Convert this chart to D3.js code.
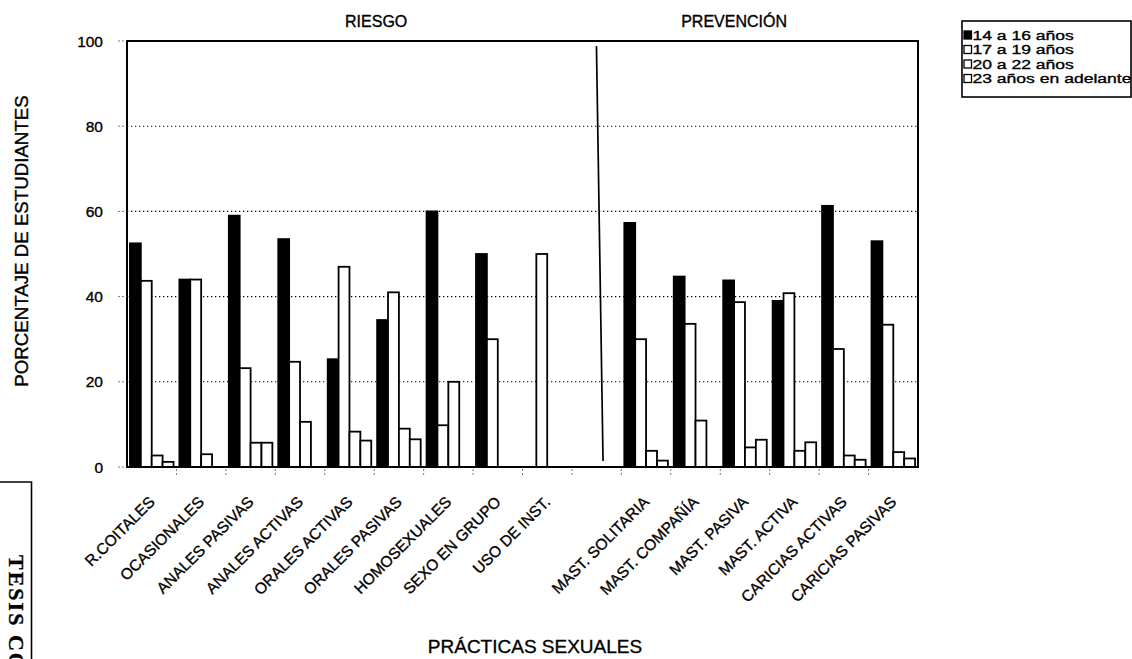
<!DOCTYPE html>
<html>
<head>
<meta charset="utf-8">
<script src="https://cdn.jsdelivr.net/npm/d3@7"></script>
<style>
  html, body { margin: 0; padding: 0; background: #fff; }
  svg { display: block; font-family: "Liberation Sans", Arial, sans-serif; }
  svg text { fill: #000; stroke: #000; stroke-width: 0.35px; }
</style>
</head>
<body>
<svg id="chart" width="1132" height="659"></svg>
<script>
// Sexual practices by age group: percentage of students (risk vs. prevention)
const categories = [
  "R.COITALES", "OCASIONALES", "ANALES PASIVAS", "ANALES ACTIVAS",
  "ORALES ACTIVAS", "ORALES PASIVAS", "HOMOSEXUALES", "SEXO EN GRUPO",
  "USO DE INST.", "",
  "MAST. SOLITARIA", "MAST. COMPAÑÍA", "MAST. PASIVA", "MAST. ACTIVA",
  "CARICIAS ACTIVAS", "CARICIAS PASIVAS"
];
const seriesNames = ["14 a 16 años", "17 a 19 años", "20 a 22 años", "23 años en adelante"];
const age14to16 = [52.5, 44, 59, 53.5, 25.3, 34.5, 60, 50, 0, null, 57.3, 44.7, 43.8, 39, 61.3, 53];
const age17to19 = [43.7, 44, 23.2, 24.7, 47, 41, 9.8, 30, 50, null, 30, 33.6, 38.7, 40.8, 27.7, 33.4];
const age20to22 = [2.7, 3, 5.7, 10.6, 8.3, 9, 20, 0, 0, null, 3.8, 10.9, 4.6, 3.8, 2.7, 3.5];
const age23plus = [1.2, 0, 5.7, 0, 6.2, 6.5, 0, 0, 0, null, 1.5, 0, 6.4, 5.8, 1.7, 2.0];
const seriesValues = [age14to16, age17to19, age20to22, age23plus];
const seriesFills = ["#000", "#fff", "#fff", "#fff"];
const yTicks = [0, 20, 40, 60, 80, 100];
const groupTitles = ["RIESGO", "PREVENCIÓN"];
const groupRanges = [["R.COITALES", "USO DE INST."], ["MAST. SOLITARIA", "CARICIAS PASIVAS"]];

const svg = d3.select("#chart");
const plot = { left: 127, right: 918, top: 41, bottom: 467 };

const slotKeys = categories.map((c, i) => i);
const x0 = d3.scaleBand().domain(slotKeys).range([plot.left, plot.right]).padding(0);
const x1 = d3.scaleBand().domain(d3.range(seriesNames.length))
  .range([0, x0.bandwidth()]).paddingInner(0).paddingOuter(0.27);
const y = d3.scaleLinear().domain([0, 100]).range([plot.bottom, plot.top]);

// dotted gridlines
svg.append("g")
  .selectAll("line")
  .data(yTicks.filter(t => t > 0 && t < 100))
  .join("line")
  .attr("x1", plot.left).attr("x2", plot.right)
  .attr("y1", d => y(d)).attr("y2", d => y(d))
  .attr("stroke", "#000").attr("stroke-width", 1.1)
  .attr("stroke-dasharray", "1.3,2.7");

// bars
const bars = svg.append("g");
seriesValues.forEach((vals, s) => {
  bars.append("g")
    .selectAll("rect")
    .data(vals.map((v, i) => ({ i, v })).filter(d => d.v !== null && d.v > 0))
    .join("rect")
    .attr("x", d => x0(d.i) + x1(s))
    .attr("width", x1.bandwidth())
    .attr("y", d => y(d.v))
    .attr("height", d => y(0) - y(d.v))
    .attr("fill", seriesFills[s])
    .attr("stroke", "#000")
    .attr("stroke-width", 1.8);
});

// plot frame
svg.append("rect")
  .attr("x", plot.left).attr("y", plot.top)
  .attr("width", plot.right - plot.left).attr("height", plot.bottom - plot.top)
  .attr("fill", "none").attr("stroke", "#000").attr("stroke-width", 2);

// hand-drawn divider between the two groups
const gapIndex = categories.indexOf("");
const gapCenter = x0(gapIndex) + x0.bandwidth() / 2;
svg.append("line")
  .attr("x1", gapCenter - 0.2).attr("y1", y(98.8))
  .attr("x2", gapCenter + 6.4).attr("y2", y(1.4))
  .attr("stroke", "#000").attr("stroke-width", 1.7);

// y axis ticks and labels
const yAxis = svg.append("g");
yAxis.selectAll("line")
  .data(yTicks)
  .join("line")
  .attr("x1", plot.left - 9).attr("x2", plot.left)
  .attr("y1", d => y(d)).attr("y2", d => y(d))
  .attr("stroke", "#555").attr("stroke-width", 0.8)
  .attr("stroke-dasharray", "2,2");
yAxis.selectAll("text")
  .data(yTicks)
  .join("text")
  .attr("x", 103).attr("y", d => y(d))
  .attr("text-anchor", "end")
  .attr("dominant-baseline", "central")
  .attr("font-size", 15.5)
  .text(d => d);

// x axis ticks at slot boundaries
svg.append("g")
  .selectAll("line")
  .data(d3.range(1, categories.length))
  .join("line")
  .attr("x1", d => x0(d)).attr("x2", d => x0(d))
  .attr("y1", plot.bottom + 2).attr("y2", plot.bottom + 10)
  .attr("stroke", "#555").attr("stroke-width", 0.8)
  .attr("stroke-dasharray", "2,2");

// rotated category labels
svg.append("g")
  .selectAll("text")
  .data(categories.map((c, i) => ({ c, i })).filter(d => d.c !== ""))
  .join("text")
  .attr("transform", d => `translate(${x0(d.i) + x0.bandwidth() / 2 + 4},${plot.bottom + 36}) rotate(-45)`)
  .attr("text-anchor", "end")
  .attr("font-size", 15.5)
  .text(d => d.c);

// group titles above the plot
svg.append("g")
  .selectAll("text")
  .data(groupTitles.map((t, k) => ({ t, k })))
  .join("text")
  .attr("x", d => {
    const a = x0(categories.indexOf(groupRanges[d.k][0]));
    const b = x0(categories.indexOf(groupRanges[d.k][1])) + x0.bandwidth();
    return d.k === 0 ? a + (b - a) * 0.56 : a + (b - a) * 0.38;
  })
  .attr("y", 27)
  .attr("text-anchor", "middle")
  .attr("font-size", 16)
  .text(d => d.t);

// axis titles
svg.append("text")
  .attr("transform", "translate(21,241) rotate(-90)")
  .attr("text-anchor", "middle")
  .attr("dominant-baseline", "central")
  .attr("font-size", 18.7)
  .text("PORCENTAJE DE ESTUDIANTES");

svg.append("text")
  .attr("x", 535).attr("y", 652.5)
  .attr("text-anchor", "middle")
  .attr("font-size", 19)
  .text("PRÁCTICAS SEXUALES");

// legend
const legend = svg.append("g");
legend.append("rect")
  .attr("x", 962).attr("y", 21).attr("width", 169).attr("height", 76)
  .attr("fill", "#fff").attr("stroke", "#000").attr("stroke-width", 1.6);
const rowY = d3.scalePoint().domain(d3.range(seriesNames.length)).range([35, 78.5]);
const rows = legend.selectAll("g.row")
  .data(seriesNames.map((n, k) => ({ n, k })))
  .join("g").attr("class", "row")
  .attr("transform", d => `translate(0,${rowY(d.k)})`);
rows.append("rect")
  .attr("x", 964).attr("y", -4).attr("width", 7.5).attr("height", 8)
  .attr("fill", d => seriesFills[d.k]).attr("stroke", "#000").attr("stroke-width", 1.3);
rows.append("text")
  .attr("transform", "translate(972.5,0) scale(1.3,1)")
  .attr("dominant-baseline", "central")
  .attr("font-size", 13.5)
  .text(d => d.n);

// stamp in the lower-left corner
const stamp = svg.append("g");
stamp.append("path")
  .attr("d", "M0,482 L31.5,482 L31.5,659")
  .attr("fill", "none").attr("stroke", "#000").attr("stroke-width", 1.6);
stamp.append("text")
  .attr("transform", "translate(9,555) rotate(90)")
  .attr("font-family", "'Liberation Serif', serif")
  .attr("font-weight", "bold")
  .attr("font-size", 22)
  .attr("letter-spacing", 2)
  .text("TESIS CON FALLA DE ORIGEN");
</script>
</body>
</html>
